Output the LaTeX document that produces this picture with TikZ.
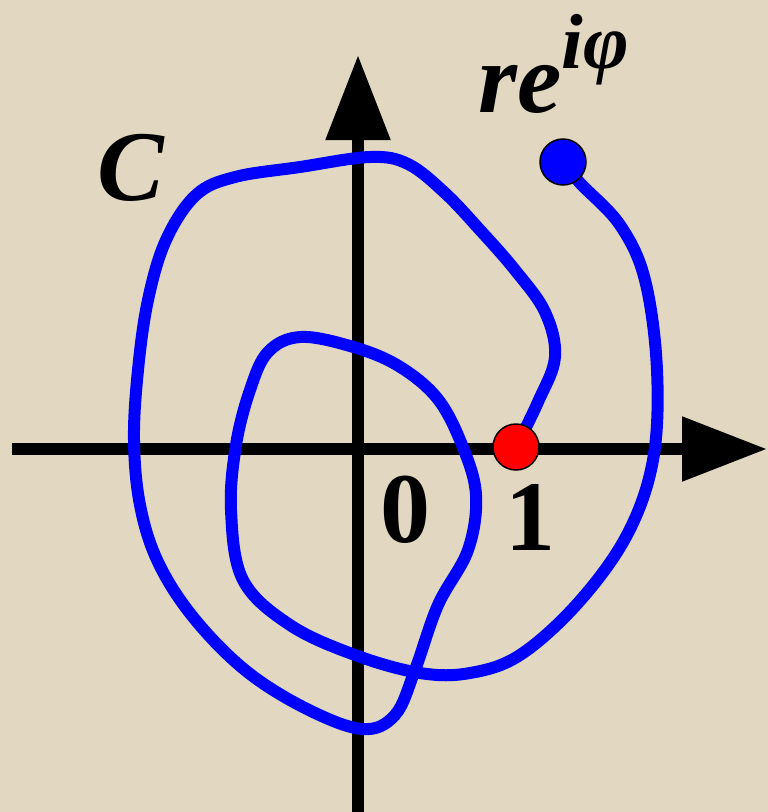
\documentclass[tikz,border=0pt]{standalone}
\usepackage{fontspec}
\setmainfont{Liberation Serif}
\usetikzlibrary{arrows.meta}
\definecolor{paper}{RGB}{226,215,192}
\tikzset{
  axis/.style={line width=12pt,-{Triangle[length=85pt,width=62pt]}},
  curve/.style={blue,line width=12pt,line join=round,line cap=round},
  dot/.style={circle,draw=black,line width=1.5pt,minimum size=46pt,inner sep=0pt},
  lbl/.style={inner sep=0pt,font=\fontsize{100}{100}\selectfont\bfseries}
}
\begin{document}
\begin{tikzpicture}[x=1pt,y=-1pt]
	\fill[paper] (0,0) rectangle (768,812);
	\useasboundingbox (0,0) rectangle (768,812);
	% axes
	\coordinate (xl) at (12,449);
	\coordinate (xr) at (767,449);
	\coordinate (yb) at (358,812);
	\coordinate (yt) at (358,55);
	\draw[axis] (xl) -- (xr);
	\draw[axis] (yb) -- (yt);

	\coordinate (start) at (516,447);
	\coordinate (stop) at (563,162);
	\draw[curve] plot[smooth,tension=0.6] coordinates {(start) (538,402) (555,357) (545,312)
		(515,270) (480,230) (445,193) (408,164) (370,157) (300,167) (235,177) (196,195)
		(166,240) (148,300) (138,370) (134,440) (140,505) (158,562) (193,617) (245,670)
		(305,708) (362,729) (395,715) (415,670) (438,605) (468,550) (476,495) (462,445)
		(437,398) (397,365) (350,346) (300,337) (268,352) (250,390) (236,445) (231,510)
		(243,580) (290,625) (355,655) (420,673) (470,673) (520,655) (578,603) (627,535)
		(653,460) (657,370) (645,280) (620,225) (580,183) (stop)};
	%\draw[curve] (start) -- (stop);
	\node[dot,fill=red] (one) at (start) {};
	\node[dot,fill=blue] (end) at (stop) {};

	\node[lbl,font=\fontsize{100}{100}\selectfont\bfseries\itshape] (C) at (131,168) {C};
	\node[lbl] (zero) at (405,510) {0};
	\node[lbl] (unit) at (530,517) {1};
	\node[lbl,font=\fontsize{100}{100}\selectfont\bfseries\itshape,anchor=base west] (rei) at (478,112)
		{re\raisebox{44pt}{\fontsize{78}{78}\selectfont iφ}};
\end{tikzpicture}
\end{document}
